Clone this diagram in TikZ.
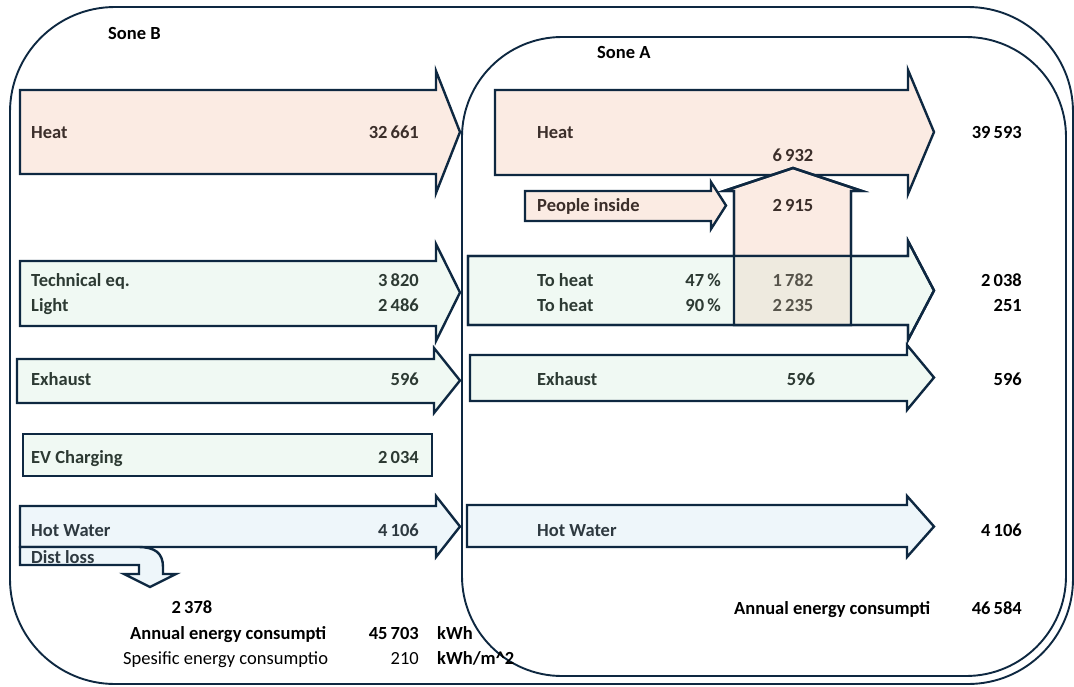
\documentclass[tikz,border=0pt]{standalone}
\usepackage{fontspec}
\setmainfont{Carlito}
\definecolor{navy}{HTML}{0E2841}
\definecolor{heatc}{HTML}{FBEBE3}
\definecolor{greenc}{HTML}{F0F9F3}
\definecolor{bluec}{HTML}{EEF6FA}
\definecolor{mixc}{HTML}{EEEADF}
\definecolor{heattxt}{HTML}{3B2E2A}
\definecolor{greentxt}{HTML}{2D3A33}
\definecolor{bluetxt}{HTML}{2E3940}
\definecolor{mixtxt}{HTML}{57544B}
\newcommand\barrow[8]{%
  \path[#1] (#2,#5) -- (#3,#5) -- (#3,#7) -- (#4,{(#7+#8)/2}) -- (#3,#8) -- (#3,#6) -- (#2,#6) -- cycle;}
\tikzset{
  zone/.style={draw=navy, line width=1.9pt, rounded corners=#1},
  flow/.style={draw=navy, line width=2.4pt, line join=miter},
  heatflow/.style={flow, fill=heatc},
  greenflow/.style={flow, fill=greenc},
  blueflow/.style={flow, fill=bluec},
  lbl/.style={font=\bfseries\fontsize{18.5}{21}\selectfont, inner sep=0pt},
  lblr/.style={font=\fontsize{18.5}{21}\selectfont, inner sep=0pt},
  hl/.style={lbl, text=heattxt},
  gl/.style={lbl, text=greentxt},
  bl/.style={lbl, text=bluetxt},
  ml/.style={lbl, text=mixtxt},
  kl/.style={lbl, text=black},
}
\begin{document}
\begin{tikzpicture}[x=1pt,y=-1pt]
\useasboundingbox (0,0) rectangle (1074,686);
\fill[white] (0,0) rectangle (1074,686);
% zones
\draw[zone=105pt] (10,7) rectangle (1073,684);
\draw[zone=100pt] (462,37) rectangle (1066,676);
% heat
\barrow{heatflow}{20}{436}{460}{90}{174}{71}{193}
\barrow{heatflow}{495}{908}{934}{90}{175}{70}{194}
\barrow{heatflow}{525}{711}{726}{191}{221}{182}{229}
\path[heatflow] (734,325) -- (734,191) -- (724,191) -- (793,168) -- (862,191) -- (851,191) -- (851,325) -- cycle;
% technical / light
\barrow{greenflow}{20}{436}{460}{261}{326}{244}{341}
\barrow{greenflow}{468}{908}{934}{256}{325}{241}{340}
\fill[mixc] (734,256) rectangle (851,325);
\barrow{flow}{468}{908}{934}{256}{325}{241}{340}
\path[flow] (734,325) -- (734,191) -- (724,191) -- (793,168) -- (862,191) -- (851,191) -- (851,325) -- cycle;
% exhaust
\barrow{greenflow}{17}{434}{460}{359}{403}{348}{413}
\barrow{greenflow}{470}{907}{934}{355}{401}{345}{410}
% EV
\path[greenflow] (23,434) rectangle (432,476);
% hot water
\barrow{blueflow}{20}{436}{460}{506}{547}{496}{557}
\path[blueflow] (20,547) -- (138,547) .. controls (155,547) and (163,553) .. (163,567) -- (163,574) -- (176,574) -- (150,587) -- (124,574) -- (139,574) -- (139,565) -- (20,565) -- cycle;
\barrow{blueflow}{467}{907}{934}{505}{547}{496}{557}
% zone titles
\node[kl, anchor=base west] (soneB) at (108,39) {Sone B};
\node[kl, anchor=base west] (soneA) at (597,58) {Sone A};
% Sone B labels
\node[hl, anchor=base west] (heatB) at (31,138) {Heat};
\node[hl, anchor=base east] (heatBv) at (419,138) {32\,661};
\node[gl, anchor=base west] (techB) at (31,286) {Technical eq.};
\node[gl, anchor=base east] (techBv) at (419,286) {3\,820};
\node[gl, anchor=base west] (lightB) at (31,311) {Light};
\node[gl, anchor=base east] (lightBv) at (419,311) {2\,486};
\node[gl, anchor=base west] (exhB) at (31,385) {Exhaust};
\node[gl, anchor=base east] (exhBv) at (419,385) {596};
\node[gl, anchor=base west] (evB) at (31,463) {EV Charging};
\node[gl, anchor=base east] (evBv) at (419,463) {2\,034};
\node[bl, anchor=base west] (hwB) at (31,536) {Hot Water};
\node[bl, anchor=base east] (hwBv) at (419,536) {4\,106};
\node[bl, anchor=base west] (dist) at (31,563) {Dist loss};
\node[kl, anchor=base] (distv) at (192,613) {2\,378};
\node[kl, anchor=base west] (annB) at (130,639) {Annual energy consumpti};
\node[kl, anchor=base east] (annBv) at (419,639) {45\,703};
\node[kl, anchor=base west] (annBu) at (437,639) {kWh};
\node[lblr, anchor=base west] (speB) at (123,664) {Spesific energy consumptio};
\node[lblr, anchor=base east] (speBv) at (419,664) {210};
\node[kl, anchor=base west] (speBu) at (437,664) {kWh/m\textasciicircum 2};
% Sone A labels
\node[hl, anchor=base west] (heatA) at (537,138) {Heat};
\node[kl, anchor=base east] (heatAv) at (1022,138) {39\,593};
\node[hl, anchor=base] (gain) at (793,161) {6\,932};
\node[hl, anchor=base west] (people) at (537,211) {People inside};
\node[hl, anchor=base] (peoplev) at (793,211) {2\,915};
\node[gl, anchor=base west] (toh1) at (537,286) {To heat};
\node[gl, anchor=base east] (toh1p) at (721,286) {47\,\%};
\node[ml, anchor=base] (toh1v) at (793,286) {1\,782};
\node[kl, anchor=base east] (toh1r) at (1022,286) {2\,038};
\node[gl, anchor=base west] (toh2) at (537,311) {To heat};
\node[gl, anchor=base east] (toh2p) at (721,311) {90\,\%};
\node[ml, anchor=base] (toh2v) at (793,311) {2\,235};
\node[kl, anchor=base east] (toh2r) at (1022,311) {251};
\node[gl, anchor=base west] (exhA) at (537,385) {Exhaust};
\node[gl, anchor=base] (exhAv) at (801,385) {596};
\node[kl, anchor=base east] (exhAr) at (1022,385) {596};
\node[bl, anchor=base west] (hwA) at (537,536) {Hot Water};
\node[kl, anchor=base east] (hwAr) at (1022,536) {4\,106};
\node[kl, anchor=base west] (annA) at (734,614) {Annual energy consumpti};
\node[kl, anchor=base east] (annAv) at (1022,614) {46\,584};
\end{tikzpicture}
\end{document}
